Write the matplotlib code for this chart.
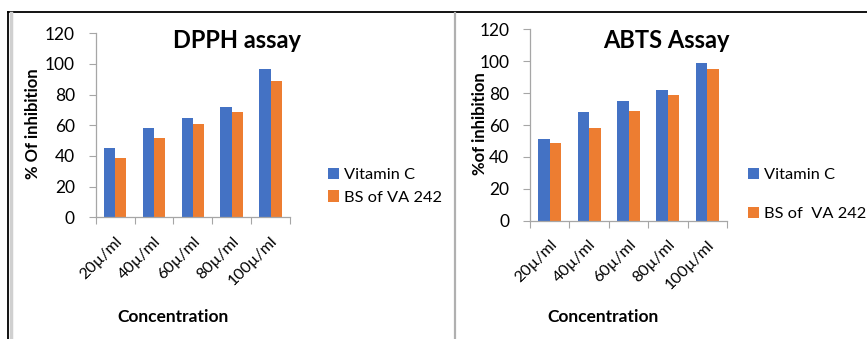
import numpy as np
import matplotlib.pyplot as plt
from matplotlib.lines import Line2D

plt.rcParams['font.family'] = ['Lato', 'DejaVu Sans']

concentrations = ['20µ/ml', '40µ/ml', '60µ/ml', '80µ/ml', '100µ/ml']
dpph_vitc = [45, 58, 65, 72, 97]
dpph_bs = [39, 52, 61, 69, 89]
abts_vitc = [51, 68, 75, 82, 99]
abts_bs = [49, 58, 69, 79, 95]

blue = '#4472C4'
orange = '#ED7D31'
grey = '#A6A6A6'

fig = plt.figure(figsize=(8.67, 3.39), dpi=100)

# outer frame and divider between the two panels
W, H = 867.0, 339.0
fig.add_artist(Line2D([8 / W, 1], [1 - 12 / H, 1 - 12 / H], color='black', lw=1.3))
fig.add_artist(Line2D([8 / W, 8 / W], [0, 1 - 12 / H], color='black', lw=1.3))
fig.add_artist(Line2D([10.5 / W, 10.5 / W], [0, 1 - 13 / H], color='#D0D0D0', lw=2.5))
fig.add_artist(Line2D([455 / W, 455 / W], [0, 1 - 13 / H], color='#B0B0B0', lw=1.6))


def panel(rect, vitc, bs, title, title_xy, ylabel, ylabel_x, xlabel_xy,
          labels, leg_anchor, leg_spacing):
    ax = fig.add_axes(rect)
    x = np.arange(len(concentrations))
    w = 0.29
    ax.bar(x - w / 2, vitc, w, color=blue, label=labels[0])
    ax.bar(x + w / 2, bs, w, color=orange, label=labels[1])
    ax.set_xlim(-0.5, len(concentrations) - 0.5)
    ax.set_ylim(0, 120)
    ax.set_yticks(range(0, 121, 20))
    ax.tick_params(axis='y', length=5, width=0.8, color=grey, pad=10, labelsize=12.5)
    ax.set_xticks(x)
    ax.set_xticklabels(concentrations, rotation=45, ha='right',
                       rotation_mode='anchor', fontsize=11.5)
    ax.set_xticks(np.arange(-0.5, len(concentrations), 1), minor=True)
    ax.tick_params(axis='x', which='major', length=0, pad=12)
    ax.tick_params(axis='x', which='minor', length=5, width=0.8, color=grey)
    for s in ['top', 'right']:
        ax.spines[s].set_visible(False)
    for s in ['left', 'bottom']:
        ax.spines[s].set_color(grey)
        ax.spines[s].set_linewidth(0.9)
    fig.text(title_xy[0] / W, 1 - title_xy[1] / H, title, fontsize=17,
             fontweight='bold', ha='center', va='center')
    fig.text(ylabel_x / W, 1 - 124 / H, ylabel, fontsize=12, fontweight='bold',
             rotation=90, ha='center', va='center')
    fig.text(xlabel_xy[0] / W, 1 - xlabel_xy[1] / H, 'Concentration', fontsize=12.5,
             fontweight='bold', ha='center', va='center')
    ax.legend(loc='upper left', bbox_to_anchor=leg_anchor,
              bbox_transform=fig.transFigure, frameon=False, fontsize=11.8,
              handlelength=0.7, handleheight=0.7, handletextpad=0.3,
              labelspacing=leg_spacing, borderaxespad=0)
    return ax


panel([95.7 / W, 1 - 217.3 / H, 194.3 / W, 184 / H], dpph_vitc, dpph_bs,
      'DPPH assay', (237, 40), '% Of inhibition', 33, (173, 317),
      ['Vitamin C', 'BS of VA 242'], (321 / W, 1 - 161 / H), 0.5)

panel([530 / W, 1 - 220.7 / H, 197 / W, 191.3 / H], abts_vitc, abts_bs,
      'ABTS Assay', (666, 40), '%of inhibition', 480, (603, 317),
      ['Vitamin C', 'BS of  VA 242'], (741 / W, 1 - 161 / H), 1.5)

plt.savefig('out.png', dpi=100)
